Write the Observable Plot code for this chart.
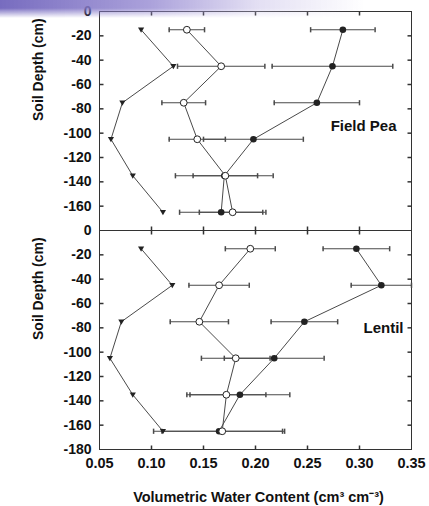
<!DOCTYPE html>
<html>
<head>
<meta charset="utf-8">
<script src="https://cdn.jsdelivr.net/npm/d3@7"></script>
<script src="https://cdn.jsdelivr.net/npm/@observablehq/plot@0.6"></script>
<style>
  body { margin: 0; background: #fff; }
  #wrap { position: relative; width: 429px; height: 506px; overflow: hidden; background: #fff; }
  #chart { position: absolute; left: 0; top: 0; }
  #haze {
    position: absolute; left: 0; top: 0; width: 429px; height: 18px; pointer-events: none;
    background: linear-gradient(to right, rgba(112,100,188,0.95) 0%, rgba(150,138,210,0.8) 35%, rgba(200,192,232,0.5) 60%, rgba(255,255,255,0) 85%);
    -webkit-mask-image: linear-gradient(to bottom, #000 0%, #000 45%, transparent 100%);
    mask-image: linear-gradient(to bottom, #000 0%, #000 45%, transparent 100%);
  }
</style>
</head>
<body>
<div id="wrap"><div id="chart"></div><div id="haze"></div></div>
<script>
// Soil water profiles under two crops
const crops = ["Field Pea", "Lentil"];
const depths = [-15, -45, -75, -105, -135, -165];

// Field pea
const peaTriangle = [0.090, 0.121, 0.072, 0.061, 0.082, 0.111];
const peaOpen = [0.134, 0.167, 0.131, 0.144, 0.171, 0.178];
const peaOpenErr = [0.017, 0.042, 0.021, 0.027, 0.031, 0.032];
const peaFilled = [0.284, 0.274, 0.259, 0.198, 0.170, 0.167];
const peaFilledErr = [0.031, 0.058, 0.041, 0.048, 0.047, 0.040];

// Lentil
const lentilTriangle = [0.090, 0.120, 0.071, 0.060, 0.082, 0.111];
const lentilOpen = [0.195, 0.165, 0.146, 0.181, 0.172, 0.168];
const lentilOpenErr = [0.024, 0.029, 0.028, 0.033, 0.038, 0.058];
const lentilFilled = [0.297, 0.321, 0.247, 0.218, 0.185, 0.165];
const lentilFilledErr = [0.032, 0.029, 0.032, 0.048, 0.048, 0.063];

// Axis ticks
const xTicks = [0.05, 0.10, 0.15, 0.20, 0.25, 0.30, 0.35];
const peaDepthTicks = [0, -20, -40, -60, -80, -100, -120, -140, -160];
const lentilDepthTicks = [0, -20, -40, -60, -80, -100, -120, -140, -160, -180];
const depthGrid = [-20, -40, -60, -80, -100, -120, -140, -160];
const xTitle = "Volumetric Water Content (cm\u00b3 cm\u207b\u00b3)";
const yTitle = "Soil Depth (cm)";

function profile(crop, series, values, errs) {
  return depths.map((depth, i) => ({crop, series, depth, wc: values[i], err: errs ? errs[i] : null}));
}

const rows = [
  ...profile("Field Pea", "triangle", peaTriangle),
  ...profile("Field Pea", "open", peaOpen, peaOpenErr),
  ...profile("Field Pea", "filled", peaFilled, peaFilledErr),
  ...profile("Lentil", "triangle", lentilTriangle),
  ...profile("Lentil", "open", lentilOpen, lentilOpenErr),
  ...profile("Lentil", "filled", lentilFilled, lentilFilledErr)
];
const errRows = rows.filter(d => d.err != null);
const yTickRows = [
  ...peaDepthTicks.map(depth => ({crop: "Field Pea", depth})),
  ...lentilDepthTicks.map(depth => ({crop: "Lentil", depth}))
];

// Small glyphs: inward frame ticks, error-bar caps and a downward triangle
const stub = (dx, dy) => ({draw(ctx) { ctx.moveTo(0, 0); ctx.lineTo(dx, dy); }});
const cap = {draw(ctx, size) { const h = Math.sqrt(size / Math.PI); ctx.moveTo(0, -h); ctx.lineTo(0, h); }};
const triangleDown = {draw(ctx, size) {
  const r = Math.sqrt(size / Math.PI);
  ctx.moveTo(-r * 1.1, -r * 0.8); ctx.lineTo(r * 1.1, -r * 0.8); ctx.lineTo(0, r * 1.1); ctx.closePath();
}};

const ink = "#222";
const lineInk = "#4a4a4a";
const innerX = xTicks.slice(1, -1);

const chart = Plot.plot({
  width: 429,
  height: 506,
  marginLeft: 99,
  marginRight: 18,
  marginTop: 11,
  marginBottom: 57,
  style: {background: "transparent", fontFamily: "'Liberation Sans', Arial, sans-serif", fontSize: "14px", fontWeight: "bold", color: "#111"},
  x: {domain: [0.05, 0.35], axis: null},
  y: {domain: [-180, 0], axis: null},
  fy: {domain: crops, padding: 0, axis: null},
  marks: [
    Plot.frame({stroke: "#333", strokeWidth: 1}),
    // inward ticks on all four sides
    Plot.dot(innerX, {x: d => d, y: () => 0, symbol: stub(0, 4), fill: "none", stroke: "#333"}),
    Plot.dot(innerX, {x: d => d, y: () => -180, symbol: stub(0, -4), fill: "none", stroke: "#333"}),
    Plot.dot(depthGrid, {x: () => 0.05, y: d => d, symbol: stub(4, 0), fill: "none", stroke: "#333"}),
    Plot.dot(depthGrid, {x: () => 0.35, y: d => d, symbol: stub(-4, 0), fill: "none", stroke: "#333"}),
    // tick labels and titles
    Plot.text(yTickRows, {fy: "crop", y: "depth", text: d => String(d.depth), frameAnchor: "left", textAnchor: "end", dx: -8, fill: "#111"}),
    Plot.axisX({ticks: xTicks, tickFormat: d3.format(".2f"), tickSize: 0, tickPadding: 8, label: null, fill: "#111", fontSize: 14.5}),
    Plot.text(crops, {fy: d => d, text: () => yTitle, frameAnchor: "left", rotate: -90, dx: -61, fill: "#111"}),
    Plot.text(["Lentil"], {fy: d => d, text: () => xTitle, frameAnchor: "bottom", lineAnchor: "middle", dy: 48, dx: 3, fontSize: 14.5, fill: "#111"}),
    Plot.text(["Field Pea"], {fy: d => d, text: d => d, frameAnchor: "right", textAnchor: "end", dx: -15, dy: 5, fontSize: 15, fill: "#111"}),
    Plot.text(["Lentil"], {fy: d => d, text: d => d, frameAnchor: "right", textAnchor: "end", dx: -8, dy: -12, fontSize: 15, fill: "#111"}),
    // profiles
    Plot.line(rows, {fy: "crop", x: "wc", y: "depth", z: "series", stroke: lineInk, strokeWidth: 1}),
    Plot.ruleY(errRows, {fy: "crop", y: "depth", x1: d => d.wc - d.err, x2: d => d.wc + d.err, stroke: lineInk, strokeWidth: 1}),
    Plot.dot(errRows, {fy: "crop", x: d => d.wc - d.err, y: "depth", symbol: cap, r: 2.6, fill: "none", stroke: lineInk}),
    Plot.dot(errRows, {fy: "crop", x: d => d.wc + d.err, y: "depth", symbol: cap, r: 2.6, fill: "none", stroke: lineInk}),
    Plot.dot(rows.filter(d => d.series === "triangle"), {fy: "crop", x: "wc", y: "depth", symbol: triangleDown, r: 2.8, fill: ink, stroke: "none"}),
    Plot.dot(rows.filter(d => d.series === "filled"), {fy: "crop", x: "wc", y: "depth", r: 3.3, fill: ink, stroke: "none"}),
    Plot.dot(rows.filter(d => d.series === "open"), {fy: "crop", x: "wc", y: "depth", r: 3.4, fill: "white", stroke: ink, strokeWidth: 1})
  ]
});

document.getElementById("chart").appendChild(chart);
</script>
</body>
</html>
